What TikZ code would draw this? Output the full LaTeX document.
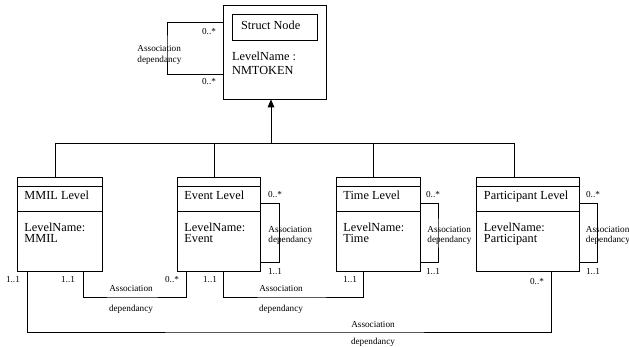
\documentclass[tikz,border=0pt]{standalone}
\usepackage{fontspec}
\setmainfont{Liberation Serif}
\usetikzlibrary{arrows.meta,calc}
\begin{document}
\begin{tikzpicture}[x=1pt,y=-1pt,line width=0.9pt,
  box/.style={draw,rectangle,inner sep=0pt,outer sep=0pt,anchor=north west},
  main/.style={font=\fontsize{12.3}{11}\selectfont,inner sep=0pt,anchor=base west},
  lbl/.style={font=\fontsize{9.2}{11}\selectfont,inner sep=0pt,anchor=base},
  lblw/.style={lbl,anchor=base west},
  conn/.style={draw,line width=0.9pt}]
\useasboundingbox (0,0) rectangle (629,347);

% boxes
\node[box,minimum width=102.7pt,minimum height=94pt] (struct) at (223.3,5.3) {};
\node[box,minimum width=85pt,minimum height=26pt] (inner) at (232.3,14) {};
\node[box,minimum width=85pt,minimum height=93.3pt] (mmil) at (17,177.7) {};
\node[box,minimum width=83.5pt,minimum height=93.3pt] (event) at (177,177.7) {};
\node[box,minimum width=84.5pt,minimum height=93.3pt] (time) at (336,177.7) {};
\node[box,minimum width=102.5pt,minimum height=93.3pt] (part) at (476.5,177.7) {};

% compartments
\foreach \b in {mmil,event,time,part}{
  \draw ($(\b.north west)+(0,8.3)$) -- ($(\b.north east)+(0,8.3)$);
  \draw ($(\b.north west)+(0,34)$) -- ($(\b.north east)+(0,34)$);
}

% box texts
\node[main] (tS) at (240.7,29.5) {Struct Node};
\node[main] (tS1) at (231.7,60.5) {LevelName :};
\node[main] (tS2) at (231.7,74.5) {NMTOKEN};
\node[main] (tM) at (24,200) {MMIL Level};
\node[main] (tM1) at (24,231.7) {LevelName:};
\node[main] (tM2) at (24,242.7) {MMIL};
\node[main] (tE) at (184,200) {Event Level};
\node[main] (tE1) at (184,231.7) {LevelName:};
\node[main] (tE2) at (184,242.7) {Event};
\node[main] (tT) at (343,200) {Time Level};
\node[main] (tT1) at (343,231.7) {LevelName:};
\node[main] (tT2) at (343,242.7) {Time};
\node[main] (tP) at (483.5,200) {Participant Level};
\node[main] (tP1) at (483.5,231.7) {LevelName:};
\node[main] (tP2) at (483.5,242.7) {Participant};

% generalization
\coordinate (g) at (271,143);
\draw ($(mmil.north west)+(38,0)$) |- ($(part.north west)+(37.5,-34.7)$) -- ($(part.north west)+(37.5,0)$);
\draw ($(event.north west)+(37,0)$) -- ++(0,-34.7);
\draw ($(time.north west)+(37.5,0)$) -- ++(0,-34.7);
\draw[-{Triangle[length=8pt,width=6.5pt]}] (g) -- (g |- struct.south);

% struct self loop
\coordinate (sL) at (167,48);
\draw ($(struct.north west)+(0,17.4)$) -| (sL) |- ($(struct.north west)+(0,68.7)$);
\node[lbl] (sl1) at (209,35) {0..*};
\node[lbl] (sl2) at (209,85) {0..*};
\node[lblw] (sl3) at (137,52) {Association};
\node[lblw] (sl4) at (137,63) {dependancy};

% self loops of levels
\coordinate (eL) at (279.5,233);
\draw ($(event.north east)+(0,25.3)$) -| (eL) |- ($(event.north east)+(0,85)$);
\node[lbl] (el1) at (275,198) {0..*};
\node[lbl] (el2) at (275,275) {1..1};
\node[lblw] (el3) at (268,233) {Association};
\node[lblw] (el4) at (268,243) {dependancy};

\coordinate (tL) at (438,233);
\draw ($(time.north east)+(0,25.3)$) -| (tL) |- ($(time.north east)+(0,85)$);
\node[lbl] (tl1) at (433,198) {0..*};
\node[lbl] (tl2) at (433,275) {1..1};
\node[lblw] (tl3) at (427,233) {Association};
\node[lblw] (tl4) at (427,243) {dependancy};

\coordinate (pL) at (597.5,233);
\draw ($(part.north east)+(0,25.3)$) -| (pL) |- ($(part.north east)+(0,85)$);
\node[lbl] (pl1) at (593,198) {0..*};
\node[lbl] (pl2) at (593,275) {1..1};
\node[lblw] (pl3) at (585.5,233) {Association};
\node[lblw] (pl4) at (585.5,243) {dependancy};

% bottom associations
\coordinate (c1) at (130,297);
\draw ($(mmil.south west)+(66,0)$) |- (c1) -| ($(event.south west)+(9,0)$);
\node[lbl] (a1) at (68,283) {1..1};
\node[lbl] (a2) at (172,283) {0..*};
\node[lbl] (a3) at (131,292) {Association};
\node[lbl] (a4) at (131,312) {dependancy};

\coordinate (c2) at (290,297);
\draw ($(event.south west)+(46,0)$) |- (c2) -| ($(time.south west)+(27.3,0)$);
\node[lbl] (b1) at (210,283) {1..1};
\node[lbl] (b2) at (350,283) {1..1};
\node[lbl] (b3) at (281,292) {Association};
\node[lbl] (b4) at (281,312) {dependancy};

\coordinate (c3) at (300,332);
\draw ($(mmil.south west)+(10,0)$) |- (c3) -| ($(part.south west)+(75.2,0)$);
\node[lbl] (d1) at (13,283) {1..1};
\node[lbl] (d2) at (537,284) {0..*};
\node[lbl] (d3) at (373,327) {Association};
\node[lbl] (d4) at (373,344.5) {dependancy};
\end{tikzpicture}
\end{document}
